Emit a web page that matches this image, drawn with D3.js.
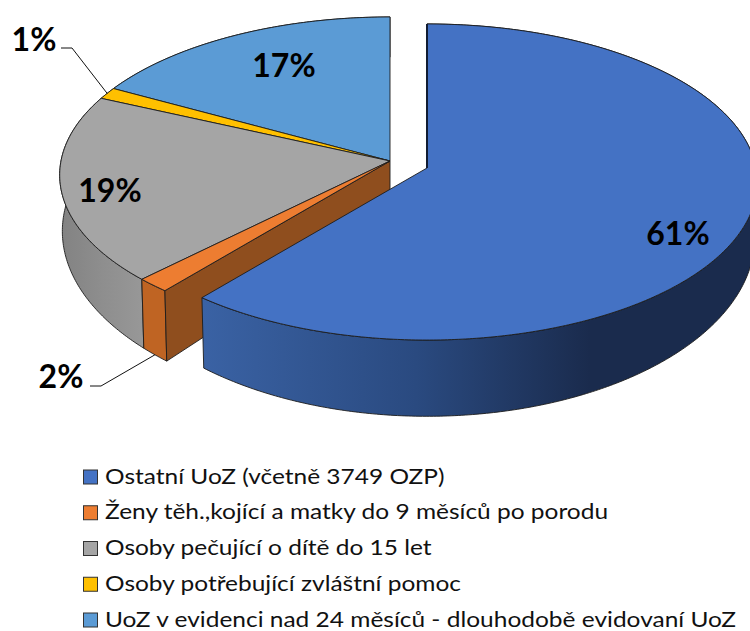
<!DOCTYPE html>
<html><head><meta charset="utf-8">
<script src="https://cdnjs.cloudflare.com/ajax/libs/d3/7.8.5/d3.min.js"></script>
<style>html,body{margin:0;padding:0;background:#fff}svg{display:block}</style>
</head><body>
<svg id="c" width="750" height="631"></svg>
<script>
const categories = ["Ostatní UoZ (včetně 3749 OZP)","Ženy těh.,kojící a matky do 9 měsíců po porodu","Osoby pečující o dítě do 15 let","Osoby potřebující zvláštní pomoc","UoZ v evidenci nad 24 měsíců - dlouhodobě evidovaní UoZ"];
const shares = [61.0,1.5,19.3,1.2,17.0];
const shareLabels = ["61%","2%","19%","1%","17%"];
const topColors = ["#4472C4","#ED7D31","#A5A5A5","#FFC000","#5B9BD5"];
const labelAt = [[678,232],[61,375],[110,189],[34,38],[284,64]];
const FONT = "Lato, Carlito, sans-serif";

const svg = d3.select("#c");
const defs = svg.append("defs");
function grad(id,x1,x2,stops){
  const g = defs.append("linearGradient").attr("id",id).attr("gradientUnits","userSpaceOnUse")
    .attr("x1",x1).attr("x2",x2).attr("y1",0).attr("y2",0);
  stops.forEach(s=>g.append("stop").attr("offset",s[0]).attr("stop-color",s[1]));
}
grad("gBlue",203,590,[[0,"#3A62A4"],[0.55,"#2A4A80"],[1,"#1A2B4D"]]);
grad("gGrey",60,145,[[0,"#828282"],[0.5,"#8E8E8E"],[1,"#989898"]]);

const pie = d3.pie().sort(null).value(d=>d).startAngle(0).endAngle(2*Math.PI);
const arcs = pie(shares);

// perspective projection of the tilted disc
const A=329,B=156.8,K=0.0886,DEPTH=54.6,DEPTH_POW=3.6,SHRINK=0.992;
const main={x:390,y:161}, exploded={x:427,y:168};
function project(a,r,c,low){
  const u=r*Math.sin(a), v=-r*Math.cos(a), w=1-K*v;
  let X=A*u/w, Y=B*v/w;
  if(low){X*=SHRINK; Y+=DEPTH/Math.pow(w,DEPTH_POW);}
  return [c.x+X,c.y+Y];
}
function rim(a0,a1,c,low){
  const n=Math.max(2,Math.ceil(Math.abs(a1-a0)/0.01)),pts=[];
  for(let i=0;i<=n;i++)pts.push(project(a0+(a1-a0)*i/n,1,c,low));
  return pts;
}
const line=d3.line().curve(d3.curveLinear);
const EDGE={stroke:"#1c1c1c","stroke-width":0.9,"stroke-linejoin":"round"};
function poly(pts,fill){
  const p=svg.append("path").attr("d",line(pts)+"Z").attr("fill",fill);
  Object.entries(EDGE).forEach(([k,v])=>p.attr(k,v));
  return p;
}
function wallFill(i){return ["url(#gBlue)","#BF6423","url(#gGrey)","#B38600","#3F6D96"][i];}
function outerWall(d,c){
  poly(rim(d.startAngle,d.endAngle,c,false).concat(rim(d.endAngle,d.startAngle,c,true)),wallFill(d.index));
}
function topFace(d,c){
  poly([[c.x,c.y]].concat(rim(d.startAngle,d.endAngle,c,false)),topColors[d.index]);
}

// remaining part of the pie
[4,3,2,1].forEach(i=>outerWall(arcs[i],main));
const cut=arcs[1].startAngle;
poly([project(cut,0,main,false),project(cut,1,main,false),project(cut,1,main,true),project(cut,0,main,true)],"#8F4E1E");
[4,3,2,1].forEach(i=>topFace(arcs[i],main));

// exploded slice
outerWall(arcs[0],exploded);
topFace(arcs[0],exploded);
svg.append("path").attr("d",line([project(0,1,exploded,false),project(0,0,exploded,false)]))
  .attr("fill","none").attr("stroke","#111C33").attr("stroke-width",2);

// leader lines
function leader(i,elbow,start){
  const a=(arcs[i].startAngle+arcs[i].endAngle)/2;
  const end=project(a,1,main,i===1);
  svg.append("path").attr("d",line([start,elbow,end])).attr("fill","none").attr("stroke","#111").attr("stroke-width",1);
}
leader(3,[72,48],[61,48]);
leader(1,[101,386],[90,386]);

// value labels
svg.selectAll("text.v").data(shareLabels).join("text").attr("class","v")
  .attr("x",(d,i)=>labelAt[i][0]).attr("y",(d,i)=>labelAt[i][1])
  .attr("text-anchor","middle").attr("dominant-baseline","central")
  .attr("font-family",FONT).attr("font-weight",700).attr("font-size",32).attr("fill","#000").text(d=>d);

// legend
const rowY=d3.scalePoint().domain(d3.range(categories.length)).range([477,620]);
const lg=svg.selectAll("g.l").data(categories).join("g").attr("class","l").attr("transform",(d,i)=>`translate(0,${rowY(i)})`);
lg.append("rect").attr("x",83.5).attr("y",-7).attr("width",14).attr("height",14)
  .attr("fill",(d,i)=>topColors[i]).attr("stroke","#333").attr("stroke-width",1);
lg.append("text").attr("transform","translate(105,6.5) scale(1.113,1)")
  .attr("font-family",FONT).attr("font-size",22).attr("fill","#111").text(d=>d);
</script>
</body></html>
